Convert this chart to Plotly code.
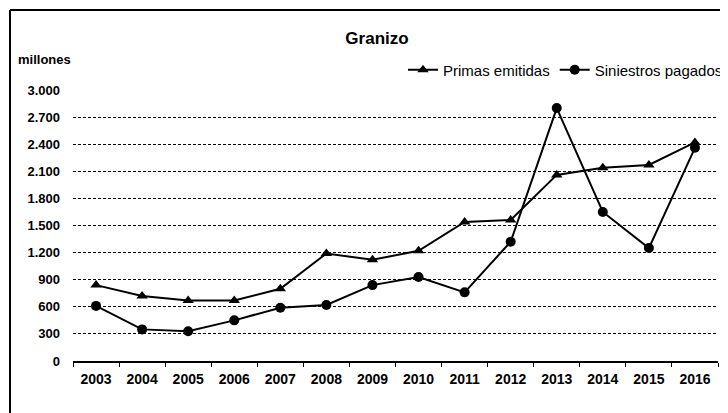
"""
Granizo: primas emitidas vs siniestros pagados (millones)
"""

import plotly.graph_objs as go

# Data
years = ['2003', '2004', '2005', '2006', '2007', '2008', '2009',
         '2010', '2011', '2012', '2013', '2014', '2015', '2016']
primas = [840, 720, 670, 670, 800, 1190, 1120,
          1220, 1540, 1560, 2060, 2140, 2170, 2420]
siniestros = [610, 350, 330, 450, 590, 620, 840,
              930, 760, 1320, 2800, 1650, 1250, 2360]
y_ticks = list(range(0, 3001, 300))

FONT = 'Liberation Sans, Arial, sans-serif'

# The page body has an 8px default margin, so everything is drawn 8px up/left
OFF = 8
W, H = 728, 413
# Plot area as seen in the reference (pixels in the window)
L, R, T, B = 73 - OFF, W - 718 + OFF, 90 - OFF, H - 361 + OFF
pw, ph = W - L - R, H - T - B


def px_x(px):
    """Window pixel x -> paper x"""
    return (px - OFF - L) / pw


def px_y(py):
    """Window pixel y (from top) -> paper y"""
    return (H - B - (py - OFF)) / ph


data = [
    go.Scatter(x=years, y=primas, name='Primas emitidas', mode='lines+markers',
               line=dict(color='black', width=2),
               marker=dict(symbol='triangle-up', size=10, color='black')),
    go.Scatter(x=years, y=siniestros, name='Siniestros pagados', mode='lines+markers',
               line=dict(color='black', width=2),
               marker=dict(symbol='circle', size=10, color='black')),
]

layout = go.Layout(
    width=W, height=H,
    margin=dict(l=L, r=R, t=T, b=B, autoexpand=False),
    paper_bgcolor='white', plot_bgcolor='white',
    separators=',.',
    font=dict(family=FONT, size=12, color='black'),
    title=dict(text='<b>Granizo</b>', x=(377 - OFF) / W, xref='container', xanchor='center',
               y=1 - (38 - OFF) / H, yref='container', yanchor='middle',
               font=dict(size=17, color='black')),
    showlegend=True,
    legend=dict(orientation='h', xref='container', yref='container',
                x=(728 - OFF) / W, xanchor='right', y=1 - (70 - OFF) / H, yanchor='middle',
                font=dict(size=15), itemwidth=30, bgcolor='rgba(0,0,0,0)'),
    xaxis=dict(type='category', range=[-0.5, len(years) - 0.5],
               showline=True, linecolor='black', linewidth=2,
               ticks='outside', tickson='boundaries', ticklen=4, tickcolor='black',
               showgrid=False, zeroline=False, automargin=False,
               tickfont=dict(size=14, weight='bold'), ticklabelstandoff=4),
    yaxis=dict(range=[0, 3000], tickvals=y_ticks, tickformat=',d',
               showline=False, zeroline=False, automargin=False,
               showgrid=True, gridcolor='black', gridwidth=1, griddash='3px,2px',
               tickfont=dict(size=13, weight='bold'), ticklabelstandoff=12),
    annotations=[dict(text='<b>millones</b>', xref='paper', yref='paper',
                      x=px_x(16), y=px_y(60), xanchor='left', yanchor='middle',
                      showarrow=False, font=dict(size=13))],
    shapes=[
        # frame of the scanned chart (top and left edges)
        dict(type='line', xref='paper', yref='paper', x0=px_x(10), x1=px_x(736),
             y0=px_y(10), y1=px_y(10), line=dict(color='black', width=2)),
        dict(type='line', xref='paper', yref='paper', x0=px_x(10), x1=px_x(10),
             y0=px_y(10), y1=px_y(421), line=dict(color='black', width=2)),
    ],
)

fig = go.Figure(data=data, layout=layout)
fig.write_html("out.html")
